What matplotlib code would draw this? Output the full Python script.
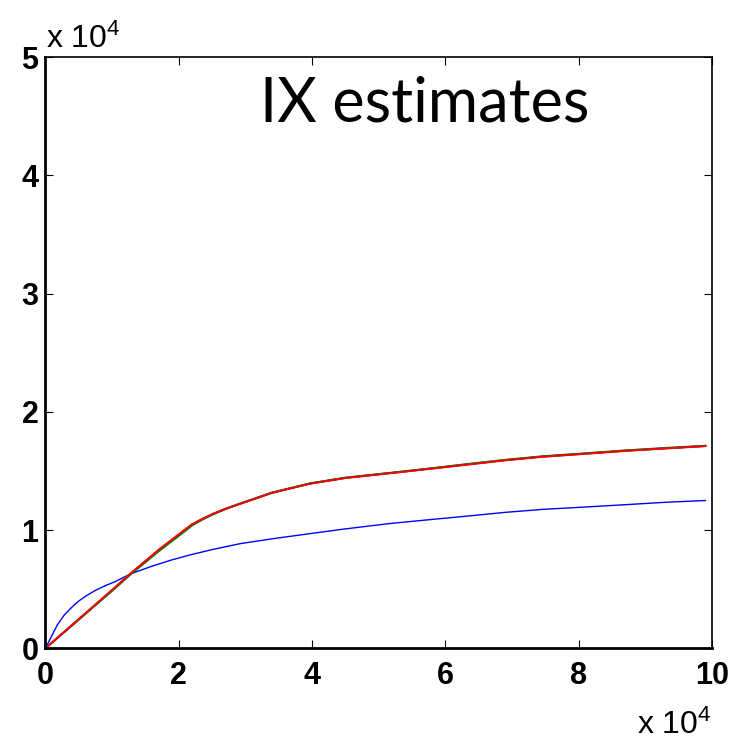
import matplotlib

matplotlib.use("Agg")
import matplotlib.pyplot as plt
import numpy as np

# values, x and y in units of 1e4
x_upper = [0.0, 0.5, 1.0, 1.28, 1.7, 2.07, 2.2, 2.35, 2.5, 2.7, 2.92, 3.4, 3.97, 4.5, 5.16, 5.8, 6.36, 6.9, 7.46, 8.1, 8.71, 9.3, 9.90]
y_red = [0.0, 0.247, 0.494, 0.635, 0.835, 0.995, 1.05, 1.095, 1.135, 1.18, 1.222, 1.315, 1.392, 1.44, 1.48, 1.52, 1.555, 1.59, 1.62, 1.645, 1.67, 1.69, 1.71]
y_green = [0.0, 0.243, 0.487, 0.627, 0.822, 0.982, 1.04, 1.088, 1.13, 1.178, 1.224, 1.317, 1.395, 1.443, 1.483, 1.523, 1.56, 1.594, 1.624, 1.649, 1.674, 1.694, 1.713]
y_navy = [0.0, 0.245, 0.49, 0.631, 0.828, 0.988, 1.045, 1.091, 1.132, 1.179, 1.223, 1.316, 1.394, 1.442, 1.482, 1.522, 1.558, 1.592, 1.622, 1.647, 1.672, 1.692, 1.712]

x_blue = [0.0, 0.08, 0.18, 0.28, 0.4, 0.5, 0.6, 0.75, 0.9, 1.05, 1.28, 1.6, 1.88, 2.17, 2.5, 2.92, 3.45, 3.97, 4.5, 5.16, 5.8, 6.36, 6.9, 7.46, 8.1, 8.71, 9.3, 9.90]
y_blue = [0.0, 0.09, 0.2, 0.28, 0.35, 0.40, 0.44, 0.49, 0.53, 0.565, 0.63, 0.695, 0.745, 0.79, 0.835, 0.885, 0.93, 0.97, 1.01, 1.055, 1.09, 1.12, 1.15, 1.175, 1.195, 1.215, 1.235, 1.25]

x_ticks = [0, 2, 4, 6, 8, 10]
y_ticks = [0, 1, 2, 3, 4, 5]

SCALE = 1e4

plt.rcParams.update(
    {
        "font.family": ["Liberation Sans", "DejaVu Sans"],
        "mathtext.fontset": "custom",
        "mathtext.rm": "Liberation Sans",
        "mathtext.it": "Liberation Sans",
        "mathtext.bf": "Liberation Sans:bold",
    }
)

fig = plt.figure(figsize=(7.42, 7.43), dpi=100)
ax = fig.add_axes([0.0613, 0.1275, 0.8983, 0.7954])

ax.plot(np.array(x_blue) * SCALE, np.array(y_blue) * SCALE, color="#0000ff", linewidth=1.0)
ax.plot(np.array(x_upper) * SCALE, np.array(y_navy) * SCALE, color="#0000ff", linewidth=1.4)
ax.plot(np.array(x_upper) * SCALE, np.array(y_green) * SCALE, color="#008000", linewidth=1.5)
ax.plot(np.array(x_upper) * SCALE, np.array(y_red) * SCALE, color="#ff0000", linewidth=1.4)

ax.set_xlim(0, 10 * SCALE)
ax.set_ylim(0, 5 * SCALE)
ax.set_xticks([t * SCALE for t in x_ticks])
ax.set_xticklabels([str(t) for t in x_ticks])
ax.set_yticks([t * SCALE for t in y_ticks])
ax.set_yticklabels([str(t) for t in y_ticks])

ax.tick_params(
    axis="both",
    direction="in",
    length=6,
    width=0.8,
    top=True,
    right=True,
    labelsize=22,
)
ax.tick_params(axis="x", pad=9)
ax.tick_params(axis="y", pad=5)
for lbl in ax.get_xticklabels() + ax.get_yticklabels():
    lbl.set_fontweight("bold")
for side in ["bottom", "left"]:
    ax.spines[side].set_linewidth(2.0)
for side in ["top", "right"]:
    ax.spines[side].set_linewidth(1.2)

# MATLAB-style exponent labels
fig.text(46 / 742, 1 - 48 / 743, r"x 10$^{4}$", fontsize=23, ha="left", va="baseline")
fig.text(712 / 742, 1 - 734 / 743, r"x 10$^{4}$", fontsize=23, ha="right", va="baseline")

ax.text(
    0.569,
    0.8905,
    "IX estimates",
    transform=ax.transAxes,
    fontsize=44,
    family=["Lato", "DejaVu Sans"],
    ha="center",
    va="baseline",
)

fig.savefig("out.png", dpi=100)
